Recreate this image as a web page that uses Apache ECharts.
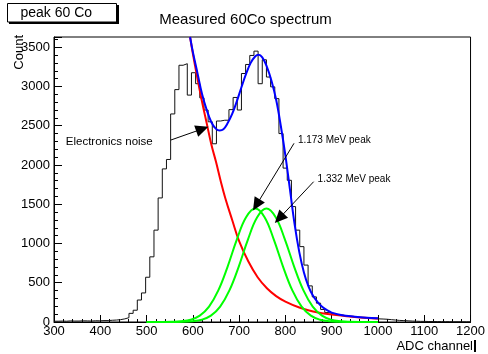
<!DOCTYPE html>
<html>
<head>
<meta charset="utf-8">
<script src="https://cdn.jsdelivr.net/npm/echarts@6.0.0/dist/echarts.min.js"></script>
<style>
  html, body { margin: 0; padding: 0; background: #fff; }
  #chart { width: 488px; height: 354px; }
</style>
</head>
<body>
<div id="chart"></div>
<script>
// histogram: 100 bins of 9 ADC channels from 300 to 1200
const binStart = 300;
const binWidth = 9;
const counts = [
  10, 12, 10, 14, 12, 12, 15, 14, 12, 16,
  15, 18, 18, 22, 25, 30, 40, 55, 110, 150,
  280, 370, 570, 830, 1170, 1580, 1950, 2070, 2650, 2960,
  3270, 3290, 2890, 3175, 3035, 2855, 2700, 2550, 2270, 2560,
  2570, 2570, 2705, 2860, 2700, 3165, 3280, 3395, 3450, 3035,
  3340, 3120, 2995, 2845, 2400, 1960, 1805, 1470, 1170, 960,
  725, 460, 320, 240, 160, 120, 105, 95, 90, 80,
  70, 65, 60, 55, 50, 45, 42, 40, 38, 35,
  30, 25, 20, 18, 15, 12, 10, 8, 8, 6,
  6, 5, 5, 4, 4, 3, 3, 3, 2, 2
];

// fitted curves as [channel, count]
const noiseFit = [
  [594, 3630], [600, 3420], [610, 3100], [620, 2800], [630, 2530], [640, 2260],
  [650, 2040], [660, 1800], [670, 1580], [685, 1300], [700, 1030], [720, 770],
  [740, 570], [760, 430], [780, 330], [800, 260], [830, 185], [860, 135],
  [900, 95], [950, 65], [1000, 45]
];
const totalFit = [
  [594, 3630], [600, 3440], [610, 3170], [620, 2900], [630, 2700], [640, 2545],
  [650, 2460], [658, 2440], [666, 2455], [675, 2530], [685, 2650], [695, 2810],
  [705, 2990], [715, 3160], [725, 3300], [735, 3385], [742, 3405], [750, 3370],
  [760, 3250], [770, 3070], [780, 2830], [790, 2500], [800, 2120], [810, 1680],
  [820, 1240], [830, 890], [840, 630], [850, 450], [860, 330], [870, 250],
  [880, 190], [890, 150], [900, 120], [920, 90], [950, 68], [975, 55], [1000, 47]
];
const peak1173 = [
  [500, 0], [535, 0], [555, 2], [575, 9], [595, 29], [615, 81], [635, 196],
  [655, 402], [675, 703], [695, 1049], [715, 1334], [735, 1445], [755, 1334],
  [775, 1049], [795, 703], [815, 402], [835, 196], [855, 81], [875, 29],
  [895, 9], [915, 2], [935, 0], [1000, 0]
];
const peak1332 = [
  [500, 0], [560, 1], [579, 2], [599, 9], [619, 29], [639, 81], [659, 196],
  [679, 402], [699, 703], [719, 1049], [739, 1334], [759, 1445], [779, 1334],
  [799, 1049], [819, 703], [839, 402], [859, 196], [879, 81], [899, 29],
  [919, 9], [939, 2], [960, 0], [1000, 0]
];

// annotations: text anchor and arrow from/to, in data coordinates
const notes = [
  { text: 'Electronics noise', at: [325.5, 2299], from: [552.6, 2318], to: [620.5, 2459], size: 11.5 },
  { text: '1.173 MeV peak', at: [827, 2318], from: [818.6, 2276], to: [737.3, 1490], size: 10 },
  { text: '1.332 MeV peak', at: [869.5, 1818], from: [861, 1787], to: [786.7, 1321], size: 10 }
];

const font = 'Liberation Sans';

const histData = counts.map((v, i) => [binStart + i * binWidth, v]);
histData.push([binStart + counts.length * binWidth, counts[counts.length - 1]]);

const chart = echarts.init(document.getElementById('chart'));

function curve(data, color, z) {
  return {
    type: 'line', data: data, smooth: 0.4, symbol: 'none',
    lineStyle: { color: color, width: 2 }, z: z
  };
}

const option = {
  animation: false,
  backgroundColor: '#fff',
  grid: {
    left: 54, right: 10, top: 37, bottom: 32,
    show: true, borderColor: '#000', borderWidth: 1
  },
  xAxis: {
    type: 'value', min: 300, max: 1200, interval: 100,
    axisLine: { lineStyle: { color: '#000', width: 1 } },
    axisTick: { inside: true, length: 7, lineStyle: { color: '#000' } },
    minorTick: { show: true, splitNumber: 5, length: 3, lineStyle: { color: '#000' } },
    splitLine: { show: false },
    axisLabel: { color: '#000', fontFamily: font, fontSize: 13, margin: 3, formatter: (v) => String(v) }
  },
  yAxis: {
    type: 'value', min: 0, max: 3630, interval: 500,
    axisLine: { show: true, lineStyle: { color: '#000', width: 1 } },
    axisTick: { show: true, inside: true, length: 8, lineStyle: { color: '#000' } },
    minorTick: { show: true, splitNumber: 5, length: 4, lineStyle: { color: '#000' } },
    splitLine: { show: false },
    axisLabel: {
      color: '#000', fontFamily: font, fontSize: 13, margin: 4,
      showMaxLabel: false, formatter: (v) => String(v)
    }
  },
  series: [
    {
      type: 'line', data: histData, step: 'end', symbol: 'none',
      lineStyle: { color: '#111', width: 1 }, z: 2
    },
    curve(noiseFit, '#ff0000', 3),
    curve(peak1173, '#00ff00', 3),
    curve(peak1332, '#00ff00', 3),
    curve(totalFit, '#0000ff', 4),
    {
      // annotations only
      type: 'line', data: [], z: 5,
      markLine: {
        silent: true, animation: false,
        symbol: ['none', 'triangle'], symbolSize: [12, 13],
        lineStyle: { color: '#000', width: 1, type: 'solid' },
        label: { show: false },
        data: notes.map((n) => [{ coord: n.from }, { coord: n.to }])
      },
      markPoint: {
        silent: true, animation: false, symbol: 'circle', symbolSize: 0,
        data: notes.map((n) => ({
          coord: n.at,
          label: {
            show: true, position: 'right', distance: 0, formatter: n.text,
            color: '#000', fontFamily: font, fontSize: n.size
          }
        }))
      }
    }
  ],
  graphic: [
    { type: 'rect', shape: { x: 9, y: 5, width: 110, height: 19 }, style: { fill: '#000' } },
    { type: 'rect', shape: { x: 7.5, y: 3.5, width: 109, height: 18.5 },
      style: { fill: '#fff', stroke: '#000', lineWidth: 1 } },
    { type: 'text', x: 20.5, y: 13.5,
      style: { text: 'peak 60 Co', fill: '#000', font: '14px "Liberation Sans"', textVerticalAlign: 'middle' } },
    { type: 'text', x: 245.5, y: 20,
      style: { text: 'Measured 60Co spectrum', fill: '#000', font: '15px "Liberation Sans"',
        textAlign: 'center', textVerticalAlign: 'middle' } },
    { type: 'text', x: 19, y: 35, rotation: Math.PI / 2,
      style: { text: 'Count', fill: '#000', font: '13px "Liberation Sans"',
        textAlign: 'right', textVerticalAlign: 'middle' } },
    { type: 'text', x: 473, y: 346,
      style: { text: 'ADC channel', fill: '#000', font: '13px "Liberation Sans"',
        textAlign: 'right', textVerticalAlign: 'middle' } },
    { type: 'rect', shape: { x: 474, y: 340, width: 2, height: 12 }, style: { fill: '#000' } }
  ]
};

chart.setOption(option);
</script>
</body>
</html>
